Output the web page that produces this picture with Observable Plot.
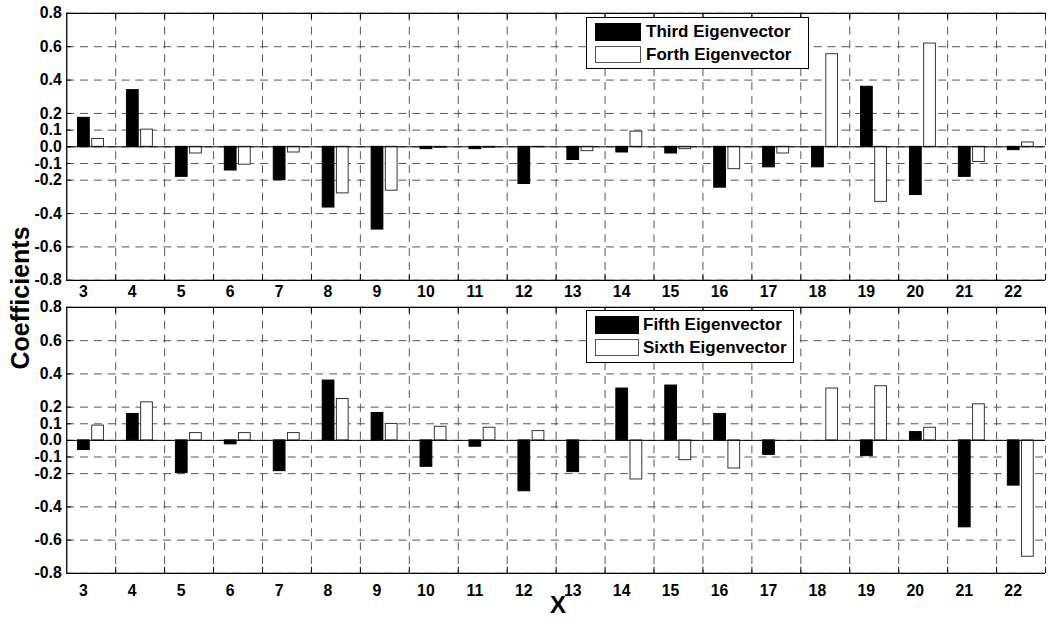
<!DOCTYPE html>
<html>
<head>
<meta charset="utf-8">
<script src="https://cdn.jsdelivr.net/npm/d3@7"></script>
<script src="https://cdn.jsdelivr.net/npm/@observablehq/plot@0.6"></script>
<style>
  body { margin: 0; background: #fff; font-family: "Liberation Sans", Arial, sans-serif; }
  #wrap { position: relative; width: 1048px; height: 617px; overflow: hidden; background: #fff; }
  .panel { position: absolute; left: 0; }
  .legend { position: absolute; box-sizing: border-box; border: 1px solid #000; background: #fff; }
  .sw { position: absolute; box-sizing: border-box; }
  .lt { position: absolute; font-size: 17px; font-weight: bold; line-height: 17px; white-space: nowrap; color: #000; }
  #ylab { position: absolute; font-size: 25px; font-weight: bold; white-space: nowrap; transform: translate(-50%, -50%) rotate(-90deg); }
  #xlab { position: absolute; font-size: 24px; font-weight: bold; line-height: 20px; }
</style>
</head>
<body>
<div id="wrap"></div>
<script>
// ---- data ----
const categories = [3,4,5,6,7,8,9,10,11,12,13,14,15,16,17,18,19,20,21,22];
const third = [0.174,0.34,-0.18,-0.142,-0.2,-0.364,-0.496,-0.014,-0.014,-0.223,-0.079,-0.034,-0.04,-0.245,-0.123,-0.123,0.36,-0.289,-0.18,-0.02];
const forth = [0.047,0.103,-0.04,-0.107,-0.034,-0.279,-0.263,-0.006,-0.006,-0.002,-0.026,0.091,-0.014,-0.134,-0.04,0.555,-0.33,0.619,-0.091,0.026];
const fifth = [-0.058,0.159,-0.197,-0.024,-0.185,0.36,0.165,-0.159,-0.038,-0.306,-0.191,0.312,0.33,0.159,-0.087,0,-0.095,0.05,-0.523,-0.272];
const sixth = [0.089,0.229,0.044,0.044,0.044,0.249,0.099,0.082,0.076,0.056,0,-0.235,-0.119,-0.169,0,0.312,0.326,0.076,0.217,-0.70];
const yTicks = [-0.8,-0.6,-0.4,-0.2,-0.1,0,0.1,0.2,0.4,0.6,0.8];
const legendTop = ["Third Eigenvector", "Forth Eigenvector"];
const legendBottom = ["Fifth Eigenvector", "Sixth Eigenvector"];
const yLabel = "Coefficients";
const xLabel = "X";

// ---- layout ----
const W = 1060, ML = 67, MR = 3;
const gridX = categories.map(k => k + 0.5);
const gridColor = "#555";
const dash = "8,6";

function panel(a, b, {height, marginTop, marginBottom, tickPadding}) {
  const rows = categories.map((k, i) => ({k, a: a[i], b: b[i]}));
  const frameH = height - marginTop - marginBottom;
  const frameW = W - ML - MR;
  return Plot.plot({
    width: W, height, marginLeft: ML, marginRight: MR, marginTop, marginBottom,
    style: {fontFamily: '"Liberation Sans", Arial, sans-serif', fontSize: "16px", fontWeight: "bold", color: "#000", background: "transparent", overflow: "visible"},
    x: {domain: [2.5, 22.5], axis: null},
    y: {domain: [-0.8, 0.8], axis: null},
    marks: [
      Plot.ruleY(yTicks, {stroke: gridColor, strokeDasharray: dash}),
      Plot.ruleX(gridX, {stroke: gridColor, strokeDasharray: dash}),
      Plot.rect(rows, {x1: d => d.k - 0.27, x2: d => d.k - 0.03, y1: 0, y2: "a", fill: "#000", stroke: "#000"}),
      Plot.rect(rows, {x1: d => d.k + 0.02, x2: d => d.k + 0.26, y1: 0, y2: "b", fill: "#fff", stroke: "#333"}),
      Plot.ruleY([0], {stroke: "#000"}),
      Plot.ruleX([2.5], {stroke: "#000", strokeWidth: 1.3}),
      Plot.ruleY([-0.8, 0.8], {stroke: "#000", strokeWidth: 1.3}),
      Plot.ruleY(yTicks, {stroke: "#000", insetRight: frameW - 5}),
      Plot.ruleX(gridX, {stroke: "#000", insetBottom: frameH - 6}),
      Plot.ruleX(gridX, {stroke: "#000", insetTop: frameH - 6}),
      Plot.axisY(yTicks, {tickSize: 0, tickPadding: 5, tickFormat: d => d.toFixed(1)}),
      Plot.axisX(categories, {tickSize: 0, tickPadding, dx: -8, tickFormat: d => String(d)})
    ]
  });
}

const wrap = document.getElementById("wrap");

const top1 = panel(third, forth, {height: 300, marginTop: 13, marginBottom: 17, tickPadding: 6});
top1.classList.add("panel"); top1.style.top = "0px";
wrap.appendChild(top1);

const bot1 = panel(fifth, sixth, {height: 317, marginTop: 7, marginBottom: 41, tickPadding: 12});
bot1.classList.add("panel"); bot1.style.top = "300px";
wrap.appendChild(bot1);

function legend(labels, {left, top, width, height, swW, textLeft}) {
  const box = document.createElement("div");
  box.className = "legend";
  Object.assign(box.style, {left: left + "px", top: top + "px", width: width + "px", height: height + "px"});
  const s1 = document.createElement("div");
  s1.className = "sw";
  Object.assign(s1.style, {left: "8px", top: "5px", width: swW + "px", height: "18px", background: "#000"});
  const s2 = document.createElement("div");
  s2.className = "sw";
  Object.assign(s2.style, {left: "8px", top: "28px", width: swW + "px", height: "17px", background: "#fff", border: "1px solid #555"});
  box.appendChild(s1); box.appendChild(s2);
  labels.forEach((t, i) => {
    const el = document.createElement("div");
    el.className = "lt";
    el.textContent = t;
    Object.assign(el.style, {left: textLeft + "px", top: (i === 0 ? 4.5 : 28) + "px"});
    box.appendChild(el);
  });
  wrap.appendChild(box);
}
legend(legendTop, {left: 586, top: 17, width: 223, height: 52, swW: 46, textLeft: 59});
legend(legendBottom, {left: 586, top: 310, width: 208, height: 53, swW: 44, textLeft: 56});

const yl = document.createElement("div");
yl.id = "ylab"; yl.textContent = yLabel;
Object.assign(yl.style, {left: "20px", top: "298px"});
wrap.appendChild(yl);

const xl = document.createElement("div");
xl.id = "xlab"; xl.textContent = xLabel;
Object.assign(xl.style, {left: "550px", top: "595px"});
wrap.appendChild(xl);
</script>
</body>
</html>
